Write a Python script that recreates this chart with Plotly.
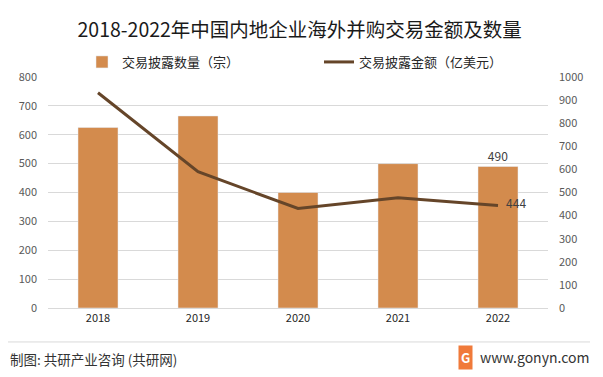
import plotly.graph_objects as go

years = ["2018", "2019", "2020", "2021", "2022"]
deal_count = [625, 665, 400, 500, 490]
deal_value = [932, 590, 431, 477, 444]
left_ticks = [0, 100, 200, 300, 400, 500, 600, 700, 800]
right_ticks = [0, 100, 200, 300, 400, 500, 600, 700, 800, 900, 1000]

BAR = "#D38B4D"
LINE = "#654529"
FONT = "Noto Sans CJK SC, Noto Sans, sans-serif"

fig = go.Figure()
fig.add_trace(go.Bar(
    x=years, y=deal_count, name="交易披露数量（宗）",
    marker_color=BAR, width=0.4,
    text=[""] * 4 + [str(deal_count[-1])], textposition="outside",
    textfont=dict(size=12, color="#404040"), cliponaxis=False,
))
fig.add_trace(go.Scatter(
    x=years, y=deal_value, name="交易披露金额（亿美元）", yaxis="y2",
    mode="lines+text", line=dict(color=LINE, width=3),
    text=[""] * 4 + [str(deal_value[-1])], texttemplate="   %{text}",
    textposition="middle right",
    textfont=dict(size=12, color="#404040"), cliponaxis=False,
))

fig.update_layout(
    width=603, height=377,
    margin=dict(l=48, r=55, t=77, b=69, autoexpand=False),
    paper_bgcolor="white", plot_bgcolor="white",
    font=dict(family=FONT, size=11, color="#595959"),
    title=dict(text="2018-2022年中国内地企业海外并购交易金额及数量",
               x=0.497, xanchor="center", y=0.92, yanchor="middle",
               font=dict(size=19.5, color="#1a1a1a", family=FONT)),
    showlegend=True,
    legend=dict(orientation="h", x=0.068, xanchor="left", y=1.065, yanchor="middle",
                font=dict(size=13, color="#262626"), entrywidth=192,
                bgcolor="rgba(0,0,0,0)", traceorder="normal"),
    bargap=0.6,
    xaxis=dict(showgrid=False, showline=True, linecolor="#d9d9d9",
               ticks="", tickfont=dict(size=11, color="#262626"), automargin=False),
    yaxis=dict(range=[0, 800], tickvals=left_ticks, showgrid=True,
               gridcolor="#d9d9d9", zeroline=False, ticks="", automargin=False,
               tickfont=dict(size=11, color="#595959"), ticklabelstandoff=10),
    yaxis2=dict(range=[0, 1000], tickvals=right_ticks, overlaying="y", side="right",
                showgrid=False, zeroline=False, ticks="", automargin=False,
                tickfont=dict(size=11, color="#595959"), ticklabelstandoff=10),
    shapes=[dict(type="line", xref="paper", yref="paper",
                 x0=-0.08, x1=1.084, y0=-0.147, y1=-0.147,
                 line=dict(color="#d9d9d9", width=1))],
    annotations=[
        dict(text="制图: 共研产业咨询 (共研网)", xref="paper", yref="paper",
             x=-0.08, y=-0.221, xanchor="left", yanchor="middle", showarrow=False,
             font=dict(size=13.5, color="#333333")),
        dict(text="<b>G</b>", xref="paper", yref="paper",
             x=0.834, y=-0.216, xanchor="center", yanchor="middle", showarrow=False,
             font=dict(size=13, color="white"), bgcolor="#F07A3A", borderpad=2),
        dict(text="www.gonyn.com", xref="paper", yref="paper",
             x=1.086, y=-0.212, xanchor="right", yanchor="middle", showarrow=False,
             font=dict(size=14, color="#333333")),
    ],
)

fig.write_html("out.html", config={"displayModeBar": False},
               post_script="document.body.style.margin='0';")
